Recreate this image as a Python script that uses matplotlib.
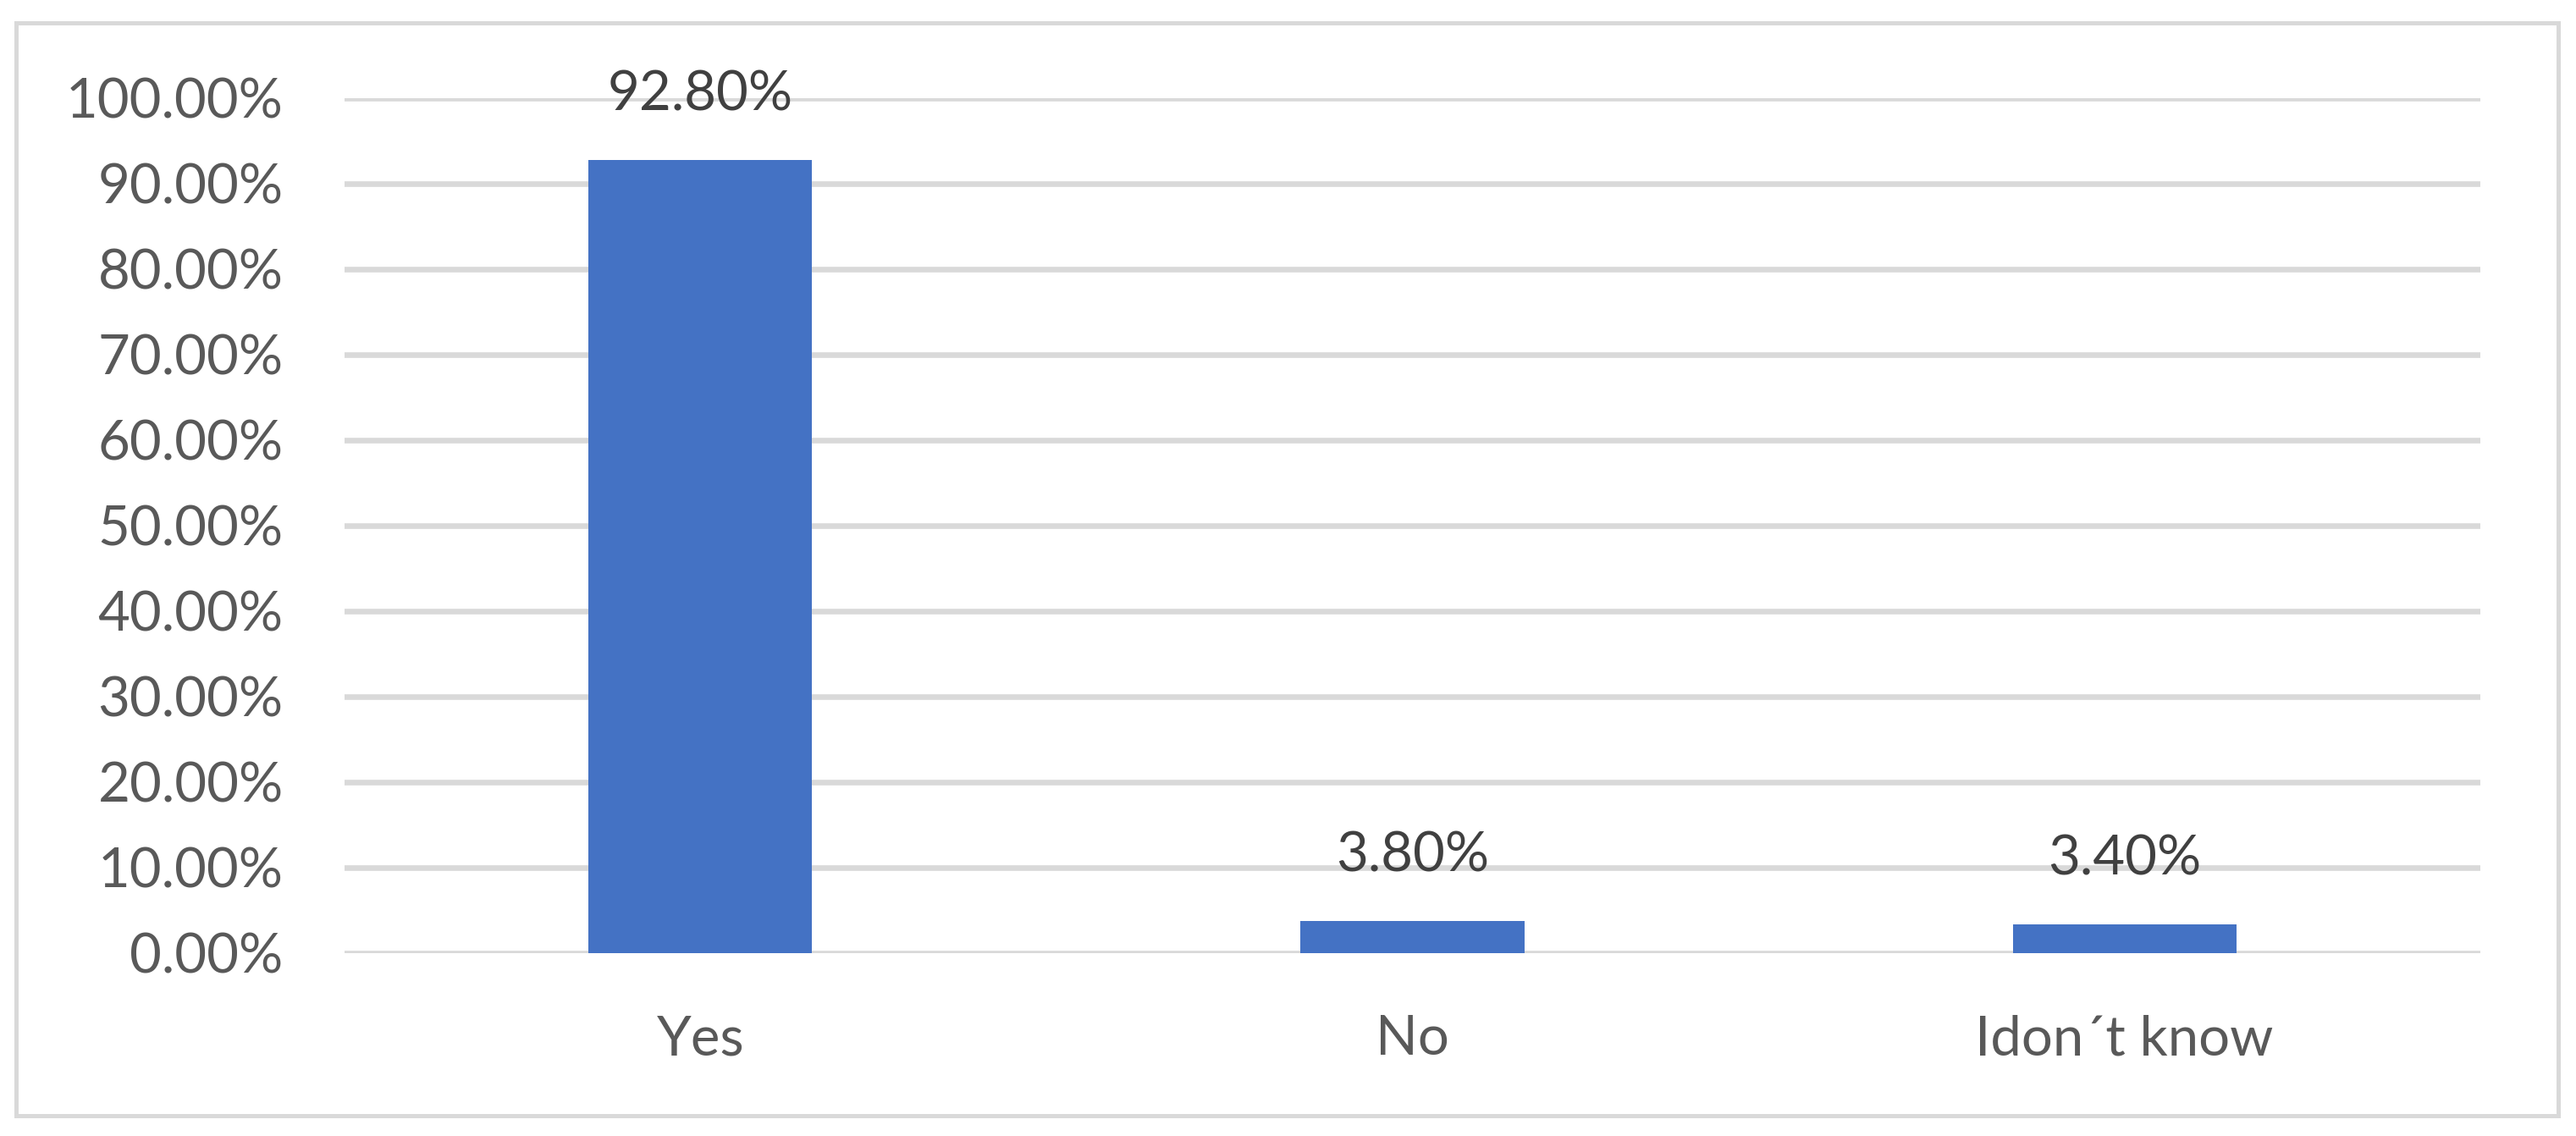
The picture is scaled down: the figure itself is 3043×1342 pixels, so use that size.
import matplotlib.pyplot as plt
from matplotlib.patches import Rectangle
from matplotlib.ticker import FuncFormatter

# dados do gráfico
categories = ["Yes", "No", "Idon\u00b4t know"]
values = [92.80, 3.80, 3.40]
y_ticks = [0, 10, 20, 30, 40, 50, 60, 70, 80, 90, 100]

bar_color = "#4472C4"
grid_color = "#D9D9D9"

plt.rcParams['font.family'] = ['Lato', 'DejaVu Sans']

fig = plt.figure(figsize=(30.43, 13.42), dpi=100)
ax = fig.add_axes([0.1337, 0.1610, 0.9629 - 0.1337, 0.9136 - 0.1610])

x = range(len(categories))
bars = ax.bar(x, values, width=0.314, color=bar_color, zorder=3)

ax.set_xlim(-0.5, len(categories) - 0.5)
ax.set_ylim(0, 100)
ax.set_yticks(y_ticks)
ax.yaxis.set_major_formatter(FuncFormatter(lambda v, pos: f"{v:.2f}%"))
ax.set_xticks(list(x))
ax.set_xticklabels(categories)

ax.grid(axis='y', color=grid_color, linewidth=4.8, zorder=0)
ax.tick_params(axis='both', length=0, labelsize=47, labelcolor="#595959")
ax.tick_params(axis='y', pad=52)
ax.tick_params(axis='x', pad=52)
for side in ax.spines.values():
    side.set_visible(False)

# rótulos de dados
for rect, val in zip(bars, values):
    ax.annotate(f"{val:.2f}%", (rect.get_x() + rect.get_width() / 2, val),
                xytext=(0, 42), textcoords='offset points',
                ha='center', va='baseline', fontsize=47, color="#404040")

# moldura externa
fig.patches.append(Rectangle((0.0062, 0.0179), 0.9931 - 0.0062, 0.980 - 0.0179,
                             transform=fig.transFigure, fill=False,
                             edgecolor=grid_color, linewidth=3.6))

fig.savefig("out.png", dpi=100, facecolor="white")
